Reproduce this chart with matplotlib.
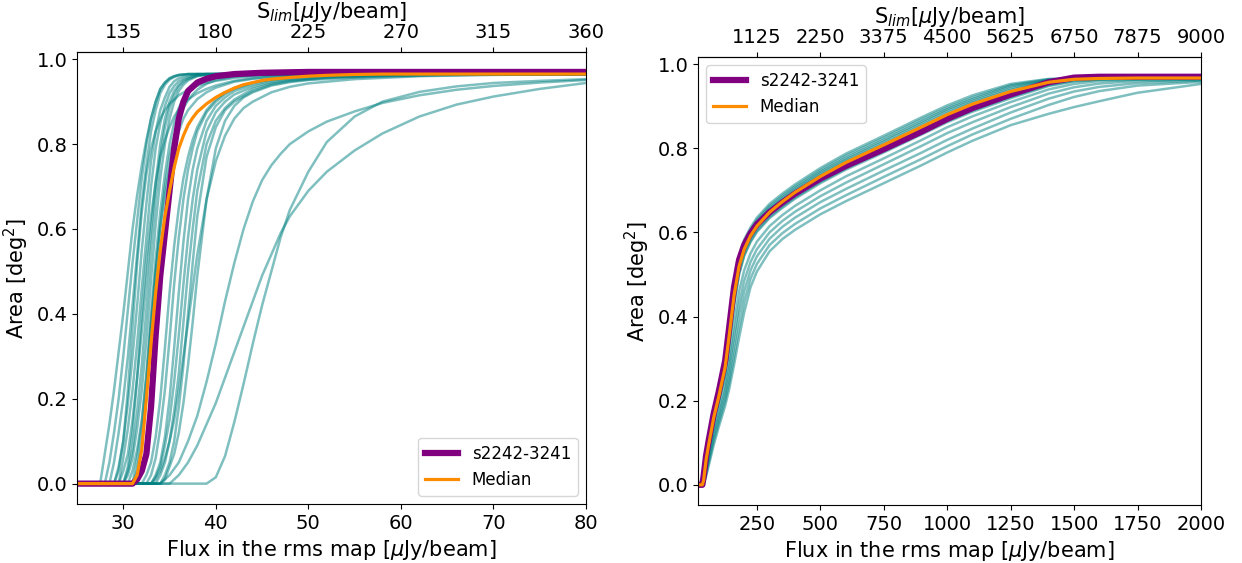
import matplotlib
matplotlib.use("Agg")
import matplotlib.pyplot as plt

# ---------------- Left panel data (flux in rms map [uJy/beam] vs area [deg^2]) -------------
left_teal_x = [
    [25, 27.5, 28, 28.5, 29, 29.5, 30, 30.5, 31, 31.5, 32, 32.5, 33, 33.5, 34, 34.5, 35, 35.5, 36, 37, 80],
    [25, 28, 28.5, 29, 29.5, 30, 30.5, 31, 31.5, 32, 32.5, 33, 33.5, 34, 34.5, 35, 35.5, 36, 37, 80],
    [25, 28.5, 29, 29.5, 30, 30.5, 31, 31.5, 32, 32.5, 33, 33.5, 34, 34.5, 35, 35.5, 36, 37, 80],
    [25, 29, 29.5, 30, 30.5, 31, 31.5, 32, 32.5, 33, 33.5, 34, 34.5, 35, 35.5, 36, 36.5, 37, 38, 80],
    [25, 29.5, 30, 30.5, 31, 31.5, 32, 32.5, 33, 33.5, 34, 34.5, 35, 35.5, 36, 36.5, 37, 38, 39, 80],
    [25, 29.5, 30, 30.5, 31, 31.5, 32, 32.5, 33, 33.5, 34, 34.5, 35, 35.5, 36, 36.5, 37, 38, 39, 80],
    [25, 30, 30.5, 31, 31.5, 32, 32.5, 33, 33.5, 34, 34.5, 35, 35.5, 36, 36.5, 37, 38, 39, 40, 80],
    [25, 30, 30.5, 31, 31.5, 32, 32.5, 33, 33.5, 34, 34.5, 35, 35.5, 36, 36.5, 37, 38, 39, 40, 80],
    [25, 30.5, 31, 31.5, 32, 32.5, 33, 33.5, 34, 34.5, 35, 35.5, 36, 36.5, 37, 37.5, 38, 39, 40, 42, 45, 50, 80],
    [25, 31, 31.5, 32, 32.5, 33, 33.5, 34, 34.5, 35, 35.5, 36, 36.5, 37, 37.5, 38, 39, 40, 42, 45, 50, 80],
    [25, 29, 29.5, 30, 30.5, 31, 31.5, 32, 32.5, 33, 33.5, 34, 34.5, 35, 36, 37, 38, 39, 40, 42, 44, 46, 48, 52, 80],
    [25, 30, 30.5, 31, 31.5, 32, 32.5, 33, 33.5, 34, 34.5, 35, 35.5, 36, 37, 38, 39, 40, 42, 44, 46, 48, 52, 58, 80],
    [25, 31, 31.5, 32, 32.5, 33, 33.5, 34, 34.5, 35, 35.5, 36, 36.5, 37, 38, 39, 40, 42, 44, 46, 48, 52, 58, 80],
    [25, 32, 32.5, 33, 33.5, 34, 34.5, 35, 35.5, 36, 36.5, 37, 37.5, 38, 39, 40, 41, 42, 44, 46, 48, 52, 58, 80],
    [25, 32.5, 33, 33.5, 34, 34.5, 35, 35.5, 36, 36.5, 37, 37.5, 38, 39, 40, 41, 42, 44, 46, 48, 52, 58, 80],
    [25, 33, 33.5, 34, 34.5, 35, 35.5, 36, 36.5, 37, 37.5, 38, 39, 40, 41, 42, 44, 46, 48, 52, 58, 66, 80],
    [25, 33, 33.5, 34, 34.5, 35, 35.5, 36, 36.5, 37, 37.5, 38, 39, 40, 41, 42, 44, 46, 48, 52, 58, 66, 80],
    [25, 33.5, 34, 34.5, 35, 35.5, 36, 36.5, 37, 37.5, 38, 39, 40, 41, 42, 44, 46, 48, 52, 58, 66, 80],
    [25, 34, 34.5, 35, 35.5, 36, 36.5, 37, 37.5, 38, 39, 40, 41, 42, 44, 46, 48, 52, 58, 66, 80],
    [25, 33, 33.5, 34, 34.5, 35, 35.5, 36, 36.5, 37, 37.5, 38, 39, 40, 41, 42, 43, 44, 46, 48, 50, 55, 62, 70, 80],
    [25, 34, 34.5, 35, 35.5, 36, 36.5, 37, 37.5, 38, 39, 40, 41, 42, 43, 44, 46, 48, 50, 55, 62, 70, 80],
    [25, 34, 35, 36, 37, 38, 39, 40, 41, 42, 43, 44, 45, 46, 47, 48, 50, 52, 55, 58, 62, 66, 70, 75, 80],
    [25, 35, 36, 37, 38, 39, 40, 41, 42, 43, 44, 45, 46, 47, 48, 50, 52, 55, 58, 62, 66, 70, 75, 80],
    [25, 39, 40, 41, 42, 43, 44, 45, 46, 47, 48, 50, 52, 55, 58, 62, 66, 70, 75, 80],
]
left_teal_y = [
    [0, 0, 0.07, 0.14, 0.22, 0.31, 0.40, 0.50, 0.60, 0.68, 0.75, 0.81, 0.86, 0.90, 0.93, 0.945, 0.955, 0.96, 0.963, 0.965, 0.965],
    [0, 0, 0.05, 0.12, 0.2, 0.3, 0.41, 0.52, 0.62, 0.72, 0.8, 0.86, 0.9, 0.93, 0.945, 0.955, 0.96, 0.963, 0.965, 0.965],
    [0, 0, 0.05, 0.12, 0.2, 0.3, 0.42, 0.54, 0.66, 0.75, 0.83, 0.88, 0.92, 0.94, 0.952, 0.958, 0.962, 0.965, 0.965],
    [0, 0, 0.04, 0.1, 0.19, 0.3, 0.42, 0.55, 0.66, 0.76, 0.83, 0.88, 0.91, 0.935, 0.948, 0.955, 0.959, 0.962, 0.965, 0.965],
    [0, 0, 0.06, 0.13, 0.22, 0.33, 0.46, 0.58, 0.7, 0.79, 0.85, 0.89, 0.92, 0.937, 0.948, 0.954, 0.958, 0.963, 0.965, 0.965],
    [0, 0, 0.03, 0.07, 0.15, 0.25, 0.36, 0.48, 0.6, 0.71, 0.8, 0.86, 0.9, 0.925, 0.94, 0.95, 0.955, 0.962, 0.965, 0.965],
    [0, 0, 0.03, 0.08, 0.17, 0.28, 0.41, 0.55, 0.67, 0.77, 0.84, 0.885, 0.915, 0.935, 0.946, 0.953, 0.961, 0.964, 0.965, 0.965],
    [0, 0, 0.02, 0.06, 0.13, 0.22, 0.34, 0.48, 0.61, 0.72, 0.8, 0.86, 0.9, 0.925, 0.94, 0.95, 0.96, 0.963, 0.965, 0.965],
    [0, 0, 0.03, 0.08, 0.15, 0.26, 0.4, 0.53, 0.64, 0.73, 0.8, 0.85, 0.885, 0.908, 0.923, 0.933, 0.94, 0.95, 0.956, 0.961, 0.964, 0.965, 0.965],
    [0, 0, 0.06, 0.14, 0.25, 0.38, 0.5, 0.61, 0.7, 0.77, 0.82, 0.86, 0.885, 0.903, 0.917, 0.928, 0.942, 0.951, 0.959, 0.963, 0.965, 0.965],
    [0, 0, 0.03, 0.1, 0.22, 0.37, 0.52, 0.64, 0.73, 0.79, 0.83, 0.86, 0.88, 0.895, 0.915, 0.928, 0.937, 0.944, 0.949, 0.956, 0.96, 0.962, 0.963, 0.965, 0.965],
    [0, 0, 0.04, 0.12, 0.25, 0.4, 0.53, 0.63, 0.71, 0.77, 0.81, 0.84, 0.865, 0.882, 0.905, 0.92, 0.93, 0.938, 0.949, 0.955, 0.959, 0.961, 0.963, 0.965, 0.965],
    [0, 0, 0.03, 0.1, 0.22, 0.37, 0.5, 0.6, 0.68, 0.74, 0.79, 0.83, 0.86, 0.88, 0.906, 0.922, 0.933, 0.947, 0.954, 0.958, 0.96, 0.963, 0.965, 0.965],
    [0, 0, 0.02, 0.05, 0.11, 0.2, 0.32, 0.45, 0.56, 0.65, 0.72, 0.77, 0.81, 0.84, 0.88, 0.905, 0.92, 0.932, 0.945, 0.953, 0.958, 0.962, 0.964, 0.965],
    [0, 0, 0.02, 0.06, 0.13, 0.22, 0.34, 0.47, 0.58, 0.67, 0.74, 0.79, 0.83, 0.875, 0.9, 0.918, 0.93, 0.944, 0.952, 0.957, 0.962, 0.964, 0.965],
    [0, 0, 0.02, 0.05, 0.11, 0.2, 0.32, 0.45, 0.57, 0.67, 0.74, 0.79, 0.855, 0.89, 0.91, 0.925, 0.94, 0.95, 0.955, 0.96, 0.963, 0.965, 0.965],
    [0, 0, 0.015, 0.04, 0.09, 0.15, 0.24, 0.35, 0.47, 0.58, 0.67, 0.74, 0.83, 0.875, 0.9, 0.917, 0.935, 0.946, 0.952, 0.958, 0.962, 0.964, 0.965],
    [0, 0, 0.02, 0.05, 0.1, 0.17, 0.26, 0.38, 0.5, 0.6, 0.69, 0.8, 0.855, 0.885, 0.905, 0.93, 0.943, 0.95, 0.957, 0.961, 0.964, 0.965],
    [0, 0, 0.02, 0.05, 0.1, 0.18, 0.28, 0.4, 0.52, 0.63, 0.77, 0.84, 0.88, 0.9, 0.925, 0.94, 0.948, 0.956, 0.961, 0.964, 0.965],
    [0, 0, 0.01, 0.03, 0.06, 0.1, 0.15, 0.22, 0.3, 0.38, 0.46, 0.54, 0.67, 0.76, 0.82, 0.86, 0.885, 0.9, 0.922, 0.935, 0.943, 0.953, 0.96, 0.963, 0.965],
    [0, 0, 0.01, 0.04, 0.07, 0.12, 0.19, 0.28, 0.38, 0.49, 0.67, 0.79, 0.855, 0.89, 0.91, 0.922, 0.938, 0.946, 0.951, 0.957, 0.961, 0.964, 0.965],
    [0, 0, 0.02, 0.05, 0.1, 0.16, 0.24, 0.33, 0.43, 0.52, 0.6, 0.665, 0.715, 0.75, 0.777, 0.8, 0.83, 0.853, 0.877, 0.897, 0.915, 0.928, 0.937, 0.945, 0.951],
    [0, 0, 0.02, 0.05, 0.09, 0.14, 0.19, 0.25, 0.31, 0.37, 0.43, 0.49, 0.54, 0.59, 0.63, 0.69, 0.735, 0.785, 0.825, 0.865, 0.893, 0.912, 0.93, 0.944],
    [0, 0, 0.015, 0.065, 0.145, 0.235, 0.33, 0.42, 0.5, 0.58, 0.645, 0.735, 0.805, 0.865, 0.9, 0.923, 0.936, 0.944, 0.949, 0.953],
]
left_field_x = [25, 31, 31.5, 32, 32.5, 33, 33.5, 34, 34.5, 35, 35.5, 36, 36.5, 37, 38, 39, 40, 42, 45, 50, 80]
left_field_y = [0, 0, 0.01, 0.03, 0.07, 0.18, 0.35, 0.49, 0.59, 0.69, 0.79, 0.86, 0.9, 0.925, 0.945, 0.954, 0.96, 0.965, 0.968, 0.97, 0.97]
left_median_x = [25, 31, 31.5, 32, 32.5, 33, 33.5, 34, 34.5, 35, 35.5, 36, 36.5, 37, 37.5, 38, 39, 40, 41, 42, 43, 44, 45, 46, 48, 50, 52, 55, 58, 80]
left_median_y = [0, 0, 0.02, 0.08, 0.2, 0.33, 0.45, 0.55, 0.63, 0.69, 0.745, 0.79, 0.82, 0.845, 0.862, 0.876, 0.895, 0.91, 0.922, 0.932, 0.94, 0.945, 0.95, 0.953, 0.957, 0.96, 0.962, 0.964, 0.965, 0.965]

# ---------------- Right panel data ----------------
right_x = [18, 35, 40, 50, 60, 80, 100, 125, 140, 160, 180, 200, 225, 250, 300, 350, 400, 500, 600, 750, 900, 1000, 1100, 1250, 1400, 1500, 1600, 1750, 2000]
right_teal_y = [
    [0, 0, 0.025, 0.075, 0.11, 0.175, 0.228, 0.3, 0.375, 0.475, 0.545, 0.583, 0.612, 0.635, 0.668, 0.692, 0.714, 0.753, 0.787, 0.83, 0.874, 0.902, 0.926, 0.953, 0.965, 0.966, 0.966, 0.966, 0.966],
    [0, 0, 0.02, 0.07, 0.105, 0.17, 0.223, 0.295, 0.368, 0.468, 0.538, 0.577, 0.607, 0.63, 0.663, 0.687, 0.709, 0.748, 0.782, 0.825, 0.869, 0.897, 0.921, 0.95, 0.964, 0.966, 0.966, 0.966, 0.966],
    [0, 0, 0.02, 0.068, 0.102, 0.167, 0.218, 0.29, 0.362, 0.462, 0.532, 0.572, 0.603, 0.626, 0.659, 0.683, 0.705, 0.744, 0.777, 0.82, 0.864, 0.893, 0.917, 0.947, 0.963, 0.966, 0.966, 0.966, 0.966],
    [0, 0, 0.015, 0.065, 0.1, 0.165, 0.215, 0.287, 0.358, 0.457, 0.527, 0.568, 0.599, 0.622, 0.655, 0.679, 0.701, 0.74, 0.773, 0.816, 0.86, 0.889, 0.913, 0.943, 0.962, 0.965, 0.966, 0.966, 0.966],
    [0, 0, 0.01, 0.06, 0.096, 0.162, 0.212, 0.282, 0.352, 0.452, 0.522, 0.563, 0.595, 0.618, 0.651, 0.675, 0.697, 0.736, 0.769, 0.811, 0.855, 0.884, 0.909, 0.939, 0.96, 0.965, 0.966, 0.966, 0.966],
    [0, 0, 0.008, 0.055, 0.09, 0.155, 0.205, 0.273, 0.34, 0.44, 0.512, 0.555, 0.588, 0.611, 0.644, 0.668, 0.69, 0.728, 0.76, 0.801, 0.845, 0.874, 0.899, 0.93, 0.955, 0.963, 0.965, 0.965, 0.965],
    [0, 0, 0.005, 0.05, 0.085, 0.15, 0.198, 0.265, 0.33, 0.43, 0.503, 0.547, 0.58, 0.604, 0.637, 0.661, 0.683, 0.72, 0.752, 0.793, 0.836, 0.865, 0.89, 0.922, 0.95, 0.96, 0.964, 0.965, 0.965],
    [0, 0, 0.005, 0.048, 0.083, 0.148, 0.196, 0.262, 0.326, 0.426, 0.5, 0.544, 0.577, 0.601, 0.634, 0.658, 0.68, 0.717, 0.749, 0.79, 0.833, 0.862, 0.887, 0.919, 0.948, 0.959, 0.963, 0.965, 0.965],
    [0, 0, 0, 0.04, 0.075, 0.135, 0.18, 0.24, 0.295, 0.385, 0.46, 0.51, 0.55, 0.578, 0.615, 0.641, 0.663, 0.7, 0.733, 0.776, 0.82, 0.85, 0.876, 0.91, 0.94, 0.953, 0.96, 0.963, 0.964],
    [0, 0, 0, 0.035, 0.068, 0.125, 0.168, 0.225, 0.275, 0.355, 0.43, 0.485, 0.53, 0.56, 0.6, 0.627, 0.649, 0.686, 0.718, 0.762, 0.806, 0.836, 0.862, 0.898, 0.93, 0.945, 0.954, 0.96, 0.963],
    [0, 0, 0, 0.03, 0.06, 0.115, 0.158, 0.212, 0.255, 0.33, 0.405, 0.46, 0.51, 0.543, 0.585, 0.613, 0.635, 0.672, 0.703, 0.747, 0.79, 0.82, 0.847, 0.885, 0.918, 0.935, 0.946, 0.955, 0.961],
    [0, 0, 0, 0.025, 0.052, 0.105, 0.148, 0.2, 0.24, 0.305, 0.375, 0.435, 0.49, 0.525, 0.57, 0.598, 0.62, 0.657, 0.688, 0.732, 0.775, 0.805, 0.833, 0.87, 0.903, 0.922, 0.936, 0.949, 0.958],
    [0, 0, 0, 0.02, 0.045, 0.095, 0.138, 0.188, 0.225, 0.285, 0.35, 0.41, 0.47, 0.507, 0.555, 0.584, 0.606, 0.643, 0.674, 0.717, 0.76, 0.79, 0.818, 0.855, 0.882, 0.898, 0.912, 0.932, 0.953],
]
right_field_y = [0, 0, 0.02, 0.07, 0.105, 0.17, 0.222, 0.295, 0.37, 0.47, 0.535, 0.57, 0.598, 0.619, 0.648, 0.671, 0.692, 0.728, 0.758, 0.798, 0.84, 0.87, 0.896, 0.928, 0.957, 0.968, 0.97, 0.97, 0.97]
right_median_y = [0, 0, 0.01, 0.06, 0.095, 0.16, 0.21, 0.28, 0.35, 0.45, 0.52, 0.56, 0.592, 0.615, 0.648, 0.673, 0.695, 0.733, 0.766, 0.808, 0.851, 0.88, 0.905, 0.935, 0.957, 0.964, 0.966, 0.967, 0.967]

left_xticks = [30, 40, 50, 60, 70, 80]
left_top_ticks = [135, 180, 225, 270, 315, 360]
right_xticks = [250, 500, 750, 1000, 1250, 1500, 1750, 2000]
right_top_ticks = [1125, 2250, 3375, 4500, 5625, 6750, 7875, 9000]
yticks = [0.0, 0.2, 0.4, 0.6, 0.8, 1.0]
field_name = "s2242-3241"
factor = 4.5

TICK_FS = 14
LABEL_FS = 15
LEGEND_FS = 12
plt.rcParams["font.family"] = ["DejaVu Sans"]

fig = plt.figure(figsize=(12.42, 5.63), dpi=100)
ax1 = fig.add_axes([77 / 1242, 59 / 563, 509 / 1242, 452 / 563])
ax2 = fig.add_axes([698 / 1242, 58 / 563, 503 / 1242, 448 / 563])

for xs, ys in zip(left_teal_x, left_teal_y):
    ax1.plot(xs, ys, color="teal", alpha=0.5, lw=1.8)
ax1.plot(left_field_x, left_field_y, color="purple", lw=4.5, label=field_name)
ax1.plot(left_median_x, left_median_y, color="darkorange", lw=2.3, label="Median")

for ys in right_teal_y:
    ax2.plot(right_x, ys, color="teal", alpha=0.5, lw=1.8)
ax2.plot(right_x, right_field_y, color="purple", lw=4.5, label=field_name)
ax2.plot(right_x, right_median_y, color="darkorange", lw=2.3, label="Median")

ax1.set_xlim(25, 80)
ax2.set_xlim(18, 2000)
ax1.set_xticks(left_xticks)
ax2.set_xticks(right_xticks)

for ax, tops in ((ax1, left_top_ticks), (ax2, right_top_ticks)):
    ax.set_ylim(-0.048, 1.017)
    ax.set_yticks(yticks)
    ax.tick_params(labelsize=TICK_FS)
    ax.set_xlabel(r"Flux in the rms map [$\mu$Jy/beam]", fontsize=LABEL_FS)
    ax.set_ylabel(r"Area [deg$^2$]", fontsize=LABEL_FS)
    sec = ax.secondary_xaxis("top", functions=(lambda x: x * factor, lambda s: s / factor))
    sec.set_xticks(tops)
    sec.tick_params(labelsize=TICK_FS)
    sec.set_xlabel(r"S$_{lim}$[$\mu$Jy/beam]", fontsize=LABEL_FS)

ax1.legend(loc="lower right", fontsize=LEGEND_FS)
ax2.legend(loc="upper left", fontsize=LEGEND_FS)

fig.savefig("out.png", dpi=100)
